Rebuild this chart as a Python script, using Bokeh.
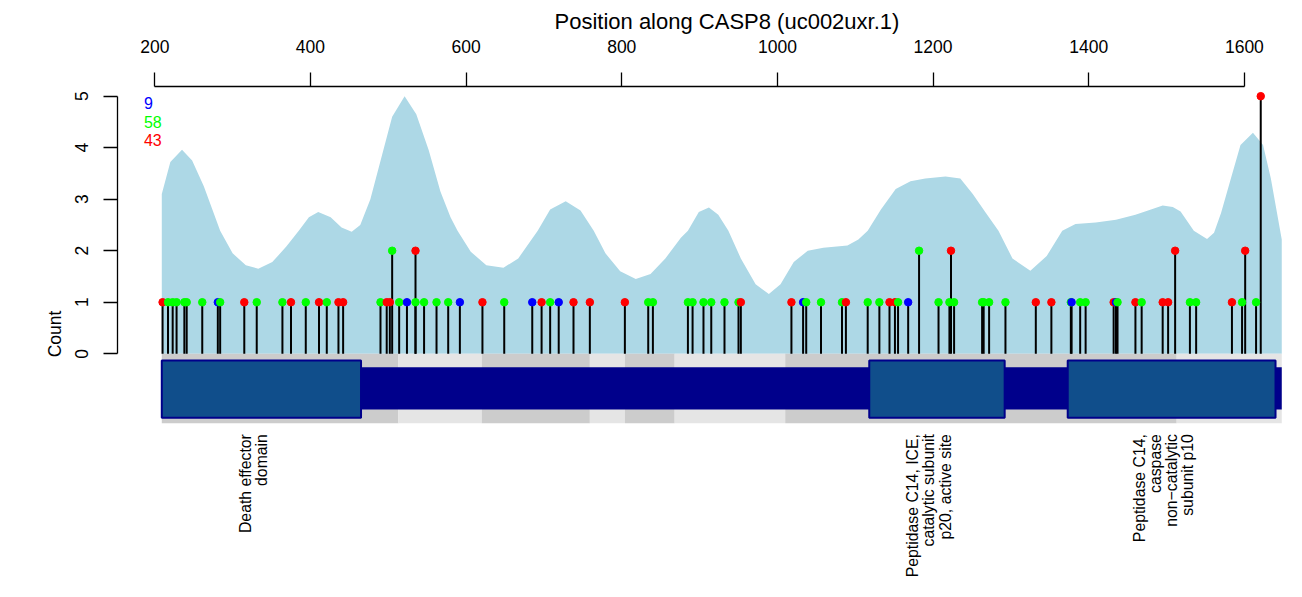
import math
from bokeh.plotting import figure
from bokeh.models import FixedTicker
from bokeh.embed import file_html
from bokeh.resources import INLINE
from bokeh.core.properties import value

# ---------------- data ----------------
title_text = "Position along CASP8 (uc002uxr.1)"
y_label = "Count"
x_ticks = [200, 400, 600, 800, 1000, 1200, 1400, 1600]
y_ticks = [0, 1, 2, 3, 4, 5]

# mutations: position, count (height), class colour
mut_pos = [210, 217, 223, 228, 238, 241, 261, 281, 284, 315,
           331, 364, 375, 394, 411, 421, 436, 442, 490, 498,
           502, 505, 514, 524, 535, 535, 546, 562, 577, 592,
           621, 649, 685, 697, 708, 719, 738, 759, 804, 834,
           840, 885, 891, 905, 915, 932, 950, 953, 1018, 1033,
           1037, 1056, 1083, 1088, 1116, 1131, 1144, 1151, 1155, 1168,
           1182, 1207, 1221, 1223, 1227, 1263, 1265, 1272, 1293, 1332,
           1352, 1377, 1378, 1389, 1396, 1432, 1435, 1437, 1460, 1468,
           1495, 1502, 1511, 1530, 1538, 1584, 1597, 1601, 1615, 1621]
mut_count = [1, 1, 1, 1, 1, 1, 1, 1, 1, 1,
             1, 1, 1, 1, 1, 1, 1, 1, 1, 1,
             1, 2, 1, 1, 2, 1, 1, 1, 1, 1,
             1, 1, 1, 1, 1, 1, 1, 1, 1, 1,
             1, 1, 1, 1, 1, 1, 1, 1, 1, 1,
             1, 1, 1, 1, 1, 1, 1, 1, 1, 1,
             2, 1, 1, 2, 1, 1, 1, 1, 1, 1,
             1, 1, 1, 1, 1, 1, 1, 1, 1, 1,
             1, 1, 2, 1, 1, 1, 1, 2, 1, 5]
mut_class = ["red", "green", "green", "green", "green", "green", "green", "blue", "green", "red",
             "green", "green", "red", "green", "red", "green", "red", "red", "green", "red",
             "red", "green", "green", "blue", "red", "green", "green", "green", "green", "blue",
             "red", "green", "blue", "red", "green", "blue", "red", "red", "red", "green",
             "green", "green", "green", "green", "green", "green", "green", "red", "red", "blue",
             "green", "green", "green", "red", "green", "green", "red", "red", "green", "blue",
             "green", "green", "green", "red", "green", "green", "green", "green", "green", "red",
             "red", "green", "blue", "green", "green", "red", "blue", "green", "red", "green",
             "red", "red", "red", "green", "green", "red", "green", "red", "green", "red"]
class_colors = {"blue": "#0000FF", "green": "#00FF00", "red": "#FF0000"}

legend_counts = ["9", "58", "43"]
legend_classes = ["blue", "green", "red"]

# smoothed mutation density (scaled to count axis)
dens_pos = [209, 220, 235, 248, 263, 274, 284, 300, 317, 333,
            351, 369, 385, 398, 410, 426, 440, 453, 464, 477,
            491, 505, 521, 536, 552, 567, 580, 589, 606, 626,
            648, 667, 692, 708, 728, 747, 764, 779, 798, 818,
            837, 856, 876, 885, 899, 912, 924, 937, 953, 972,
            989, 1004, 1021, 1039, 1059, 1090, 1104, 1116, 1133, 1152,
            1171, 1190, 1216, 1235, 1251, 1267, 1284, 1302, 1325, 1346,
            1366, 1383, 1409, 1435, 1460, 1480, 1495, 1508, 1518, 1535,
            1552, 1561, 1570, 1582, 1595, 1611, 1624, 1634, 1648]
dens_val = [3.10, 3.72, 3.96, 3.75, 3.25, 2.80, 2.39, 1.95, 1.72, 1.65,
            1.78, 2.08, 2.39, 2.65, 2.75, 2.65, 2.45, 2.37, 2.50, 3.00,
            3.80, 4.60, 5.00, 4.65, 3.95, 3.15, 2.65, 2.39, 1.98, 1.72,
            1.67, 1.85, 2.39, 2.80, 2.96, 2.78, 2.39, 1.95, 1.60, 1.45,
            1.55, 1.85, 2.25, 2.39, 2.75, 2.84, 2.70, 2.39, 1.85, 1.35,
            1.16, 1.35, 1.78, 2.00, 2.06, 2.10, 2.22, 2.39, 2.80, 3.20,
            3.35, 3.40, 3.44, 3.40, 3.10, 2.75, 2.39, 1.85, 1.61, 1.90,
            2.39, 2.52, 2.55, 2.60, 2.70, 2.80, 2.88, 2.85, 2.76, 2.39,
            2.23, 2.35, 2.73, 3.37, 4.05, 4.29, 4.05, 3.40, 2.22]

# exon bands along the protein
band_edges = [209, 513, 620, 759, 804, 868, 1010, 1513, 1648]
band_shades = ["#CCCCCC", "#E5E5E5", "#CCCCCC", "#E5E5E5",
               "#CCCCCC", "#E5E5E5", "#CCCCCC", "#E5E5E5"]

protein_start = 209
protein_end = 1648

domain_start = [209, 1118, 1373]
domain_end = [465, 1292, 1640]
domain_names = ["Death effector\ndomain",
                "Peptidase C14, ICE,\ncatalytic subunit\np20, active site",
                "Peptidase C14,\ncaspase\nnon\u2212catalytic\nsubunit p10"]

# ---------------- figure ----------------
FONT = "Liberation Sans"
FS = "17.5px"

p = figure(width=1286, height=581,
           x_range=(152.1, 1654.1), y_range=(-4.421, 5.188),
           x_axis_location="above", y_axis_location="left",
           toolbar_location=None, output_backend="svg",
           title=title_text,
           min_border_left=117, min_border_right=0,
           min_border_top=86, min_border_bottom=0)
p.outline_line_color = None
p.xgrid.visible = False
p.ygrid.visible = False
p.background_fill_color = "white"

p.title.align = "left"
p.title.offset = 437
p.title.text_font = FONT
p.title.text_font_size = "22px"
p.title.text_font_style = "normal"
p.title.text_color = "black"
p.title.standoff = 5

xa = p.xaxis[0]
xa.bounds = (x_ticks[0], x_ticks[-1])
xa.ticker = FixedTicker(ticks=x_ticks, minor_ticks=[])
xa.major_tick_in = 0
xa.major_tick_out = 14
xa.minor_tick_out = 0
xa.minor_tick_in = 0
xa.axis_line_color = "black"
xa.axis_line_width = 1.3
xa.major_tick_line_width = 1.3
xa.major_tick_line_color = "black"
xa.major_label_text_color = "black"
xa.major_label_text_font = FONT
xa.major_label_text_font_size = FS
xa.major_label_standoff = 20

ya = p.yaxis[0]
ya.bounds = (y_ticks[0], y_ticks[-1])
ya.ticker = FixedTicker(ticks=y_ticks, minor_ticks=[])
ya.major_tick_in = 0
ya.major_tick_out = 14
ya.minor_tick_out = 0
ya.minor_tick_in = 0
ya.axis_line_color = "black"
ya.axis_line_width = 1.3
ya.major_tick_line_width = 1.3
ya.major_tick_line_color = "black"
ya.major_label_text_color = "black"
ya.major_label_text_font = FONT
ya.major_label_text_font_size = FS
ya.major_label_orientation = "vertical"
ya.major_label_standoff = 15
ya.axis_label = y_label
ya.axis_label_text_font = FONT
ya.axis_label_text_font_size = FS
ya.axis_label_text_font_style = "normal"
ya.axis_label_text_color = "black"
ya.axis_label_standoff = 8

# density
p.varea(x=dens_pos, y1=[0] * len(dens_pos), y2=dens_val, fill_color="#ADD8E6")

# exon bands
p.quad(left=band_edges[:-1], right=band_edges[1:], bottom=-1.348, top=0,
       fill_color=band_shades, line_color=None)

# protein backbone
p.quad(left=[protein_start], right=[protein_end], bottom=-1.082, top=-0.26,
       fill_color="#00008B", line_color=None)

# domains
p.quad(left=domain_start, right=domain_end, bottom=-1.243, top=-0.13,
       fill_color="#104E8B", line_color="#00008B", line_width=2)

# lollipops
p.segment(x0=mut_pos, y0=[0] * len(mut_pos), x1=mut_pos, y1=mut_count,
          line_color="black", line_width=2)
p.scatter(x=mut_pos, y=mut_count, size=7.5,
          fill_color=[class_colors[c] for c in mut_class],
          line_color=[class_colors[c] for c in mut_class])

# legend counts (top-left)
p.text(x=[protein_start - 23] * 3,
       y=[4.86 - 0.36 * i for i in range(3)],
       text=legend_counts,
       text_color=[class_colors[c] for c in legend_classes],
       text_font=value(FONT), text_font_size="16px",
       text_align="left", text_baseline="middle")

# domain labels
dom_mid = [(a + b) / 2 for a, b in zip(domain_start, domain_end)]
p.text(x=dom_mid, y=[-1.56] * 3, text=domain_names, angle=math.pi / 2,
       x_offset=-8,
       text_font=value(FONT), text_font_size="15.8px", text_color="black",
       text_align="right", text_baseline="middle", text_line_height=0.95)

open("out.html", "w").write(file_html(p, INLINE))
